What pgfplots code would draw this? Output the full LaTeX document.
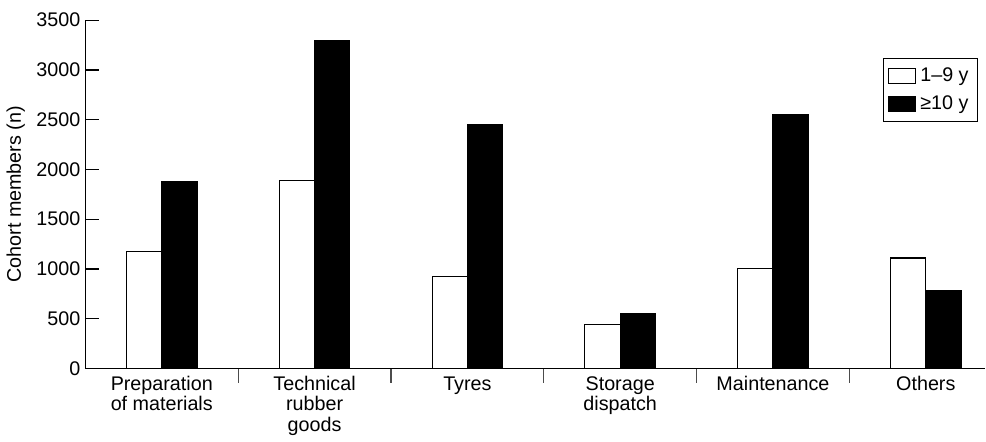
\documentclass[border=0pt]{standalone}
\usepackage{pgfplots}
\pgfplotsset{compat=1.18}
\usepackage{fontspec}
\setmainfont{Liberation Sans}
\begin{document}
\fontsize{9.8}{10}\selectfont
\begin{tikzpicture}
\begin{axis}[
  scale only axis,
  width=447pt, height=173pt,
  xmin=-0.5, xmax=5.39,
  ymin=0, ymax=3500,
  axis x line=bottom, axis y line=left,
  axis line style={-, line width=0.6pt},
  ytick={0,500,...,3500},
  /pgf/number format/assume math mode=true,
  /pgf/number format/1000 sep={},
  tick align=inside,
  major tick length=7pt,
  ytick style={line width=0.6pt, black},
  yticklabel style={font=\fontsize{9.8}{10}\selectfont, xshift=1pt},
  xtick={0,1,2,3,4,5},
  xticklabels={{Preparation\\of materials},{Technical\\rubber\\goods},{Tyres},{Storage\\dispatch},{Maintenance},{Others}},
  xticklabel style={align=center, yshift=6.5pt, font=\fontsize{9.8}{10}\selectfont},
  major x tick style={draw=none},
  minor xtick={0.5,1.5,2.5,3.5,4.5},
  minor tick length=7pt,
  minor x tick style={line width=0.6pt, black!70},
  ylabel={Cohort members (n)},
  ylabel style={font=\fontsize{9.8}{10}\selectfont, yshift=-1pt},
  ybar=0pt, bar width=17.5pt,
  legend style={at={(0.992,0.89)}, anchor=north east, draw=black, line width=0.5pt,
    font=\fontsize{9.8}{10}\selectfont, inner sep=2.5pt, row sep=1.5pt},
  legend image code/.code={\draw[#1, line width=0.5pt] (0pt,-3.7pt) rectangle (13.5pt,3.7pt);},
  legend cell align=left,
]
\addplot[fill=white, draw=black, line width=0.5pt] coordinates {(0,1180) (1,1890) (2,920) (3,440) (4,1000) (5,1110)};
\addplot[fill=black, draw=black, line width=0.5pt] coordinates {(0,1880) (1,3300) (2,2450) (3,550) (4,2550) (5,780)};
\legend{1–9 y, ≥10 y}
\end{axis}
\path (0,183pt) -- (0,183pt);
\end{tikzpicture}
\end{document}
